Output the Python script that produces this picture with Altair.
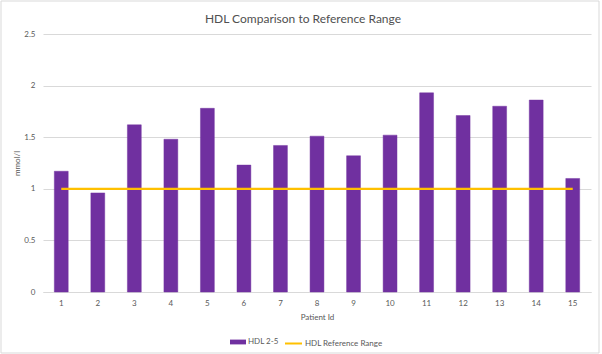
import altair as alt
import pandas as pd

# ---- data ----
patient_ids = [1, 2, 3, 4, 5, 6, 7, 8, 9, 10, 11, 12, 13, 14, 15]
hdl_values = [1.17, 0.96, 1.62, 1.48, 1.78, 1.23, 1.42, 1.51, 1.32, 1.52, 1.93, 1.71, 1.80, 1.86, 1.10]
reference_values = [1.0, 1.0, 1.0, 1.0, 1.0, 1.0, 1.0, 1.0, 1.0, 1.0, 1.0, 1.0, 1.0, 1.0, 1.0]
y_ticks = [0, 0.5, 1, 1.5, 2, 2.5]
bar_series = "HDL 2-5"
line_series = "HDL Reference Range"

df = pd.DataFrame({
    "Patient Id": patient_ids,
    "HDL": hdl_values,
    "Ref": reference_values,
    "bar_series": [bar_series] * len(patient_ids),
    "line_series": [line_series] * len(patient_ids),
})

FONT = "Lato"
TXT = "#595959"
GRID = "#D9D9D9"
PURPLE = "#7030A0"
GOLD = "#FFC000"

x_enc = alt.X(
    "Patient Id:O",
    sort=patient_ids,
    scale=alt.Scale(type="band", paddingInner=0.62, paddingOuter=0.31),
    axis=alt.Axis(title="Patient Id", labelAngle=0, ticks=False, domainColor=GRID,
                  labelPadding=7, titlePadding=6, titleFontWeight="normal"),
)

y_scale = alt.Scale(domain=[0, 2.5], nice=False, zero=True)
y_axis = alt.Axis(values=y_ticks, format="~g", title="mmol/l", grid=True, gridColor=GRID,
                  domain=False, ticks=False, labelPadding=8, titlePadding=2,
                  titleFontWeight="normal")

bars = alt.Chart(df).mark_bar(stroke=PURPLE, strokeOpacity=0.45, strokeWidth=1).encode(
    x=x_enc,
    y=alt.Y("HDL:Q", scale=y_scale, axis=y_axis),
    fill=alt.Fill(
        "bar_series:N",
        scale=alt.Scale(domain=[bar_series], range=[PURPLE]),
        legend=alt.Legend(title=None, orient="none", legendX=187, legendY=300,
                          symbolType="M-1,-0.3H1V0.3H-1Z", symbolSize=256,
                          symbolStrokeWidth=0, labelOffset=2, padding=0),
    ),
)

line = alt.Chart(df).mark_line(strokeWidth=2.3).encode(
    x=x_enc,
    y=alt.Y("Ref:Q", scale=y_scale, axis=y_axis),
    stroke=alt.Stroke(
        "line_series:N",
        scale=alt.Scale(domain=[line_series], range=[GOLD]),
        legend=alt.Legend(title=None, orient="none", legendX=241, legendY=300,
                          symbolType="stroke", symbolSize=289, symbolStrokeWidth=2,
                          labelOffset=2, padding=0),
    ),
)

frame = alt.Chart(pd.DataFrame({"k": [0]})).mark_rect(filled=False, stroke=GRID, strokeWidth=1).encode(
    x=alt.value(-42), x2=alt.value(556), y=alt.value(-33), y2=alt.value(319)
)

chart = alt.layer(frame, bars, line).properties(
    width=548,
    height=258,
    background="white",
    autosize=alt.AutoSizeParams(type="none"),
    padding={"left": 43, "top": 34, "right": 11, "bottom": 62},
    title=alt.TitleParams("HDL Comparison to Reference Range", font=FONT, fontSize=12,
                          fontWeight="normal", color="#505050", anchor="middle", dx=-14,
                          baseline="alphabetic", offset=-34),
).configure_view(stroke=None).configure_axis(
    labelFont=FONT, labelFontSize=8, labelColor=TXT,
    titleFont=FONT, titleFontSize=8, titleFontWeight="normal", titleColor=TXT,
).configure_legend(
    labelFont=FONT, labelFontSize=8, labelColor=TXT,
)

chart.save("out.html", embed_options={"renderer": "svg", "actions": False})
